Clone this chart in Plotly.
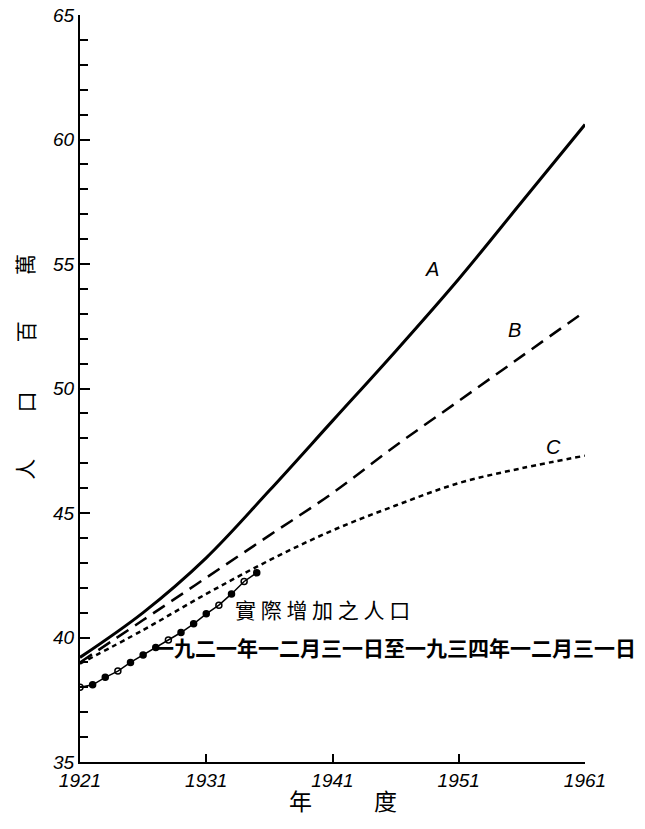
import plotly.graph_objects as go

# curve A, B, C (projections) - millions
years = [1921, 1926, 1931, 1936, 1941, 1946, 1951, 1956, 1961]
a_vals = [39.2, 41.0, 43.2, 45.9, 48.7, 51.5, 54.4, 57.5, 60.6]
b_vals = [39.0, 40.7, 42.4, 44.1, 45.8, 47.7, 49.5, 51.3, 53.1]
c_vals = [38.95, 40.3, 41.75, 43.1, 44.3, 45.3, 46.2, 46.8, 47.3]

# actual increase 1921-1934
act_years = [1921, 1922, 1923, 1924, 1925, 1926, 1927, 1928, 1929, 1930,
             1931, 1932, 1933, 1934, 1935]
act_vals = [38.0, 38.1, 38.4, 38.65, 39.0, 39.3, 39.6, 39.9, 40.2, 40.55,
            40.95, 41.3, 41.75, 42.25, 42.6]

x_ticks = [1921, 1931, 1941, 1951, 1961]
y_ticks = [35, 40, 45, 50, 55, 60, 65]

cjk = "Noto Sans CJK TC"
num_font = dict(family="Liberation Sans", size=19, color="black", style="italic")

fig = go.Figure()
fig.add_trace(go.Scatter(x=years, y=a_vals, mode="lines", line_shape="spline",
                         line=dict(color="black", width=3)))
fig.add_trace(go.Scatter(x=years, y=b_vals, mode="lines", line_shape="spline",
                         line=dict(color="black", width=2.5, dash="14px,8px")))
fig.add_trace(go.Scatter(x=years, y=c_vals, mode="lines", line_shape="spline",
                         line=dict(color="black", width=2.5, dash="5px,4px")))
symbols = ["circle-open"] + ["circle", "circle", "circle-open", "circle"] * 3 + ["circle-open", "circle"]
fig.add_trace(go.Scatter(x=act_years, y=act_vals, mode="lines+markers",
                         line=dict(color="black", width=1.5),
                         marker=dict(color="black", size=6, symbol=symbols,
                                     line=dict(color="black", width=1.5))))

# curve labels
for txt, xx, yy in [("A", 1948.9, 54.8), ("B", 1955.4, 52.35), ("C", 1958.5, 47.65)]:
    fig.add_annotation(x=xx, y=yy, text=txt, showarrow=False,
                       font=dict(family="Liberation Sans", size=20, color="black", style="italic"))

fig.add_annotation(x=1940.2, y=41.15, text="實 際 增 加 之 人 口", showarrow=False,
                   font=dict(family=cjk, size=21, color="black"))
fig.add_annotation(x=1945.9, y=39.6, text="一九二一年一二月三一日至一九三四年一二月三一日",
                   showarrow=False, font=dict(family=cjk, size=21, color="black", weight="bold"))

# axis titles, one glyph at a time
for ch, yy in [("人", 0.392), ("口", 0.482), ("百", 0.576), ("萬", 0.666)]:
    fig.add_annotation(xref="paper", yref="paper", x=-0.11, y=yy, text=ch,
                       xanchor="center", yanchor="middle",
                       textangle=-90, showarrow=False, font=dict(family=cjk, size=21, color="black"))
for ch, xx in [("年", 0.436), ("度", 0.604)]:
    fig.add_annotation(xref="paper", yref="paper", x=xx, y=-0.051, text=ch,
                       xanchor="center", yanchor="middle",
                       showarrow=False, font=dict(family=cjk, size=23, color="black"))

# page body has an 8px margin, so the figure is shrunk by that much
fig.update_layout(
    width=637, height=821,
    margin=dict(l=72, r=60, t=7, b=67, autoexpand=False),
    paper_bgcolor="white", plot_bgcolor="white",
    showlegend=False,
)
fig.update_xaxes(range=[1921, 1961], tickvals=x_ticks, ticks="inside", ticklen=8,
                 tickwidth=2, tickcolor="black", showline=True, linecolor="black",
                 linewidth=2, showgrid=False, zeroline=False, tickfont=num_font,
                 automargin=False, ticklabeloverflow="allow")
fig.update_yaxes(range=[35, 65], tickvals=y_ticks, ticks="inside", ticklen=10,
                 tickwidth=2, tickcolor="black", showline=True, linecolor="black",
                 linewidth=2, showgrid=False, zeroline=False, tickfont=num_font,
                 automargin=False, ticklabeloverflow="allow",
                 minor=dict(dtick=1, ticks="inside", ticklen=8, tickwidth=2,
                            tickcolor="black", showgrid=False))

fig.write_html("out.html")
